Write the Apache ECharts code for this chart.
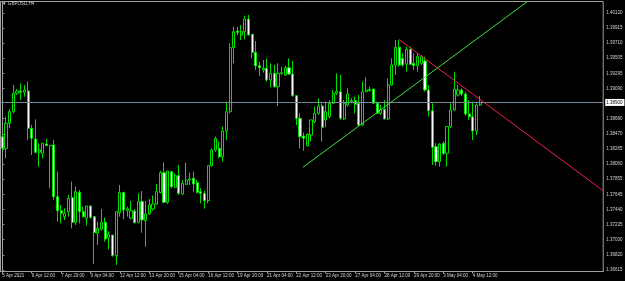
<!DOCTYPE html>
<html><head><meta charset="utf-8">
<script src="https://cdn.jsdelivr.net/npm/echarts@6/dist/echarts.min.js"></script>
<style>html,body{margin:0;padding:0;background:#000;}#c{width:625px;height:281px;}</style>
</head><body><div id="c"></div>
<script>
// Trading days and H4 sessions
const days = ['5 Apr','6 Apr','7 Apr','8 Apr','9 Apr','12 Apr','13 Apr','14 Apr','15 Apr','16 Apr','19 Apr','20 Apr','21 Apr','22 Apr','23 Apr','26 Apr','27 Apr','28 Apr','29 Apr','30 Apr','3 May','4 May'];
const hours = ['00:00','04:00','08:00','12:00','16:00','20:00'];
const firstBar = '5 Apr 04:00';

const open = [1.38433,1.38274,1.38615,1.38774,1.39024,1.39056,1.39038,1.39056,1.38547,1.38402,
1.38220,1.38206,1.38333,1.38311,1.38320,1.37615,1.37424,1.37342,1.37410,1.37601,
1.37265,1.37674,1.37410,1.37320,1.37488,1.37342,1.37115,1.37170,1.37265,1.37060,
1.37092,1.36810,1.37397,1.37670,1.37424,1.37320,1.37420,1.37265,1.37547,1.37288,
1.37379,1.37447,1.37515,1.37670,1.37942,1.37538,1.37956,1.37742,1.37901,1.37651,
1.37783,1.37842,1.37865,1.37806,1.37683,1.37660,1.37560,1.38038,1.38251,1.38274,
1.38160,1.38510,1.38774,1.39647,1.39874,1.39820,1.39865,1.40038,1.39829,1.39583,
1.39401,1.39342,1.39365,1.39206,1.39297,1.39115,1.39297,1.39274,1.39374,1.39288,
1.38992,1.38683,1.38442,1.38310,1.38456,1.38638,1.38752,1.38852,1.38661,1.38706,
1.38888,1.39024,1.39047,1.38674,1.38865,1.38911,1.38924,1.38888,1.38592,1.39047,
1.39061,1.39084,1.38888,1.38752,1.38806,1.38674,1.39138,1.39411,1.39652,1.39502,
1.39424,1.39624,1.39434,1.39402,1.39434,1.39465,1.39070,1.38788,1.38297,1.38092,
1.38343,1.38206,1.38570,1.38797,1.39002,1.39070,1.39015,1.38743,1.38706,1.38511,
1.38865];
const high = [1.38456,1.38706,1.38806,1.39138,1.39083,1.39161,1.39138,1.39184,1.38593,1.38670,
1.38343,1.38352,1.38402,1.38320,1.38388,1.37956,1.37501,1.37456,1.37638,1.37820,
1.37752,1.37706,1.37479,1.37488,1.37501,1.37351,1.37274,1.37447,1.37329,1.37142,
1.37092,1.37410,1.37774,1.37683,1.37479,1.37556,1.37447,1.37661,1.37692,1.37556,
1.37583,1.37629,1.37788,1.37970,1.38083,1.37965,1.37956,1.37933,1.38047,1.37842,
1.38079,1.37942,1.37956,1.37842,1.37729,1.37697,1.38038,1.38274,1.38433,1.38365,
1.38570,1.38910,1.39706,1.39933,1.39933,1.39956,1.40083,1.40092,1.39829,1.39738,
1.39456,1.39479,1.39501,1.39433,1.39411,1.39433,1.39388,1.39401,1.39501,1.39465,
1.39001,1.38751,1.38488,1.38479,1.38661,1.38843,1.38956,1.38888,1.38911,1.38933,
1.39070,1.39297,1.39274,1.38933,1.39093,1.38956,1.38979,1.39002,1.39184,1.39243,
1.39115,1.39084,1.38911,1.38865,1.38933,1.39229,1.39502,1.39752,1.39752,1.39570,
1.39661,1.39661,1.39570,1.39570,1.39547,1.39524,1.39138,1.38888,1.38343,1.38343,
1.38365,1.38570,1.38888,1.39320,1.39138,1.39093,1.39047,1.38933,1.38911,1.38888,
1.38988];
const low = [1.38252,1.38138,1.38547,1.38752,1.39002,1.38933,1.38979,1.38388,1.38183,1.38206,
1.38024,1.38138,1.38306,1.37729,1.37570,1.37274,1.37251,1.37297,1.37342,1.37183,
1.37229,1.37251,1.37333,1.37220,1.37315,1.36697,1.36956,1.37151,1.37001,1.36897,
1.36797,1.36683,1.37342,1.37306,1.37342,1.37306,1.37251,1.37251,1.37124,1.36933,
1.37365,1.37424,1.37501,1.37661,1.37524,1.37515,1.37729,1.37729,1.37638,1.37638,
1.37774,1.37774,1.37683,1.37660,1.37524,1.37450,1.37524,1.38024,1.38229,1.38138,
1.38092,1.38388,1.38751,1.39433,1.39820,1.39752,1.39761,1.39811,1.39501,1.39342,
1.39261,1.39306,1.39183,1.39106,1.39101,1.38851,1.39274,1.39265,1.39274,1.38979,
1.38592,1.38274,1.38242,1.38297,1.38365,1.38615,1.38729,1.38365,1.38561,1.38683,
1.38879,1.39002,1.38661,1.38661,1.38843,1.38888,1.38752,1.38570,1.38579,1.39038,
1.39047,1.38879,1.38743,1.38729,1.38670,1.38661,1.39129,1.39274,1.39388,1.39388,
1.39320,1.39411,1.39343,1.39320,1.39411,1.39047,1.38706,1.38047,1.38038,1.38024,
1.38183,1.38024,1.38547,1.38788,1.38979,1.38988,1.38720,1.38661,1.38388,1.38456,
1.38852];
const close = [1.38274,1.38615,1.38774,1.39024,1.39056,1.39038,1.39070,1.38547,1.38411,1.38220,
1.38252,1.38343,1.38311,1.38315,1.37615,1.37424,1.37388,1.37388,1.37592,1.37265,
1.37683,1.37410,1.37342,1.37488,1.37333,1.37124,1.37183,1.37265,1.37038,1.37101,
1.36810,1.37410,1.37670,1.37433,1.37447,1.37424,1.37261,1.37547,1.37297,1.37379,
1.37501,1.37515,1.37683,1.37942,1.37538,1.37965,1.37751,1.37901,1.37660,1.37797,
1.37842,1.37856,1.37788,1.37674,1.37660,1.37560,1.38038,1.38251,1.38410,1.38160,
1.38510,1.38774,1.39647,1.39865,1.39856,1.39865,1.40038,1.39820,1.39583,1.39401,
1.39374,1.39365,1.39206,1.39297,1.39115,1.39297,1.39306,1.39374,1.39288,1.38992,
1.38683,1.38433,1.38410,1.38465,1.38661,1.38752,1.38852,1.38561,1.38774,1.38888,
1.39024,1.39047,1.38683,1.38888,1.39015,1.38924,1.38874,1.38592,1.39047,1.39070,
1.39079,1.38888,1.38752,1.38806,1.38674,1.39138,1.39411,1.39652,1.39411,1.39411,
1.39624,1.39420,1.39402,1.39524,1.39524,1.39070,1.38788,1.38288,1.38092,1.38333,
1.38206,1.38570,1.38797,1.39084,1.39070,1.39015,1.38743,1.38706,1.38511,1.38865,
1.38900];

const yTickValues = [1.40120,1.39915,1.39710,1.39505,1.39295,1.39090,1.38680,1.38470,1.38265,1.38060,1.37855,1.37645,1.37440,1.37235,1.37030,1.36820,1.36615];
const xTickLabels = ['5 Apr 2021','6 Apr 12:00','7 Apr 20:00','9 Apr 04:00','12 Apr 12:00','13 Apr 20:00','15 Apr 04:00','16 Apr 12:00','19 Apr 20:00','21 Apr 04:00','22 Apr 12:00','23 Apr 20:00','27 Apr 04:00','28 Apr 12:00','29 Apr 20:00','3 May 04:00','4 May 12:00'];
const bidPrice = 1.38900;
const symbolTitle = 'GBPUSD,H4';
// trend lines: [bar index, price]
const greenLine = [[81.8,1.38016],[142.9,1.40277]];
const redLine = [[107.9,1.39761],[163.9,1.37681]];

const LABEL_STEP = 8;
const SHIFT_BARS = 33;

const times = [];
days.forEach(d => hours.forEach(h => times.push(d + ' ' + h)));
const cats = times.slice(times.indexOf(firstBar));
const N = cats.length + SHIFT_BARS;
const catsAll = cats.concat(new Array(SHIFT_BARS).fill(''));
const ohlc = open.map((o, i) => [o, close[i], low[i], high[i]]);

const txtColor = '#d4d4d4';
const frame = '#a0a0a0';
const fontFam = 'Liberation Sans';
const isTick = (i) => i % LABEL_STEP === 0 && i / LABEL_STEP < xTickLabels.length;

const chart = echarts.init(document.getElementById('c'), null, {renderer: 'canvas'});
chart.setOption({
  backgroundColor: '#000',
  animation: false,
  title: {text: '\u25BC ' + symbolTitle, left: 2, top: 1, padding: 0,
    textStyle: {color: txtColor, fontSize: 4.6, fontWeight: 'normal', fontFamily: fontFam}},
  grid: {left: 0.5, right: 21.8, top: 1.5, bottom: 9.5, show: true, borderColor: frame, borderWidth: 1,
    backgroundColor: '#000', containLabel: false, outerBoundsMode: 'none'},
  xAxis: [{
    type: 'category', data: catsAll, boundaryGap: true,
    axisLine: {lineStyle: {color: frame, width: 1}},
    axisTick: {show: true, alignWithLabel: true, interval: (i) => isTick(i), length: 2, lineStyle: {color: frame}},
    axisLabel: {interval: (i) => isTick(i), formatter: (v, i) => xTickLabels[i / LABEL_STEP] || '',
      color: txtColor, fontSize: 4.5, fontFamily: fontFam, align: 'left', margin: 2},
    splitLine: {show: false}
  }, {
    type: 'value', min: -0.5, max: N - 0.5, show: false
  }],
  yAxis: {
    type: 'value', position: 'right', min: 1.36594, max: 1.40277,
    axisLine: {show: true, lineStyle: {color: frame, width: 1}},
    axisTick: {show: true, customValues: yTickValues, length: 2, lineStyle: {color: frame}},
    axisLabel: {customValues: yTickValues, formatter: (v) => v.toFixed(5), color: txtColor, fontSize: 4.5, fontFamily: fontFam, margin: 3},
    splitLine: {show: false}
  },
  series: [{
    type: 'candlestick', xAxisIndex: 0, data: ohlc, barWidth: 2.6,
    itemStyle: {color: '#000000', color0: '#ffffff', borderColor: '#00e000', borderColor0: '#00e000', borderWidth: 1},
    markLine: {
      silent: true, symbol: 'none', animation: false, precision: 5,
      lineStyle: {color: '#778899', width: 1, type: 'solid'},
      label: {show: true, position: 'end', distance: 2, formatter: () => bidPrice.toFixed(5),
        backgroundColor: '#ffffff', color: '#000', fontSize: 4.5, fontFamily: fontFam, padding: [1, 2, 1, 1]},
      data: [{yAxis: bidPrice}]
    }
  }, {
    type: 'line', xAxisIndex: 1, data: greenLine, symbol: 'none', lineStyle: {color: '#3fe03f', width: 1}, z: 5
  }, {
    type: 'line', xAxisIndex: 1, data: redLine, symbol: 'none', lineStyle: {color: '#f0204a', width: 1}, z: 5
  }]
});
</script>
</body></html>
